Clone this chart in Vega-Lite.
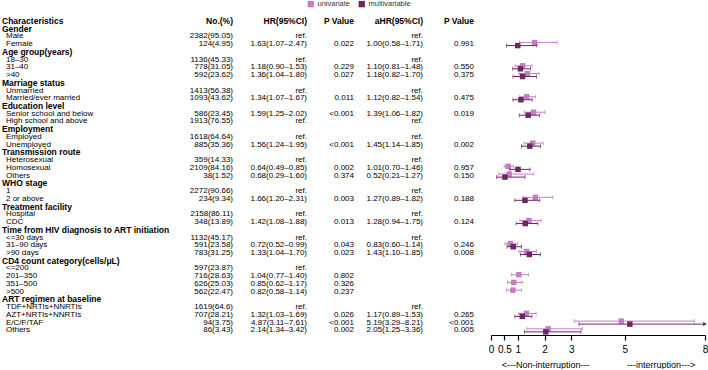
{
  "$schema": "https://vega.github.io/schema/vega-lite/v6.json",
  "padding": {"left": 0, "top": 0, "right": 0, "bottom": 0},
  "spacing": 0,
  "config": {"font": "Liberation Sans", "view": {"stroke": null}, "text": {"color": "#000"},
    "axisX": {"labelOverlap": false, "labelFlush": false, "labelBound": false, "grid": false, "domainColor": "#000", "domainWidth": 1.2, "tickColor": "#000", "tickWidth": 1.2, "tickSize": 5, "labelFontSize": 10, "labelColor": "#000", "labelPadding": 4, "titleFontSize": 9, "titleFontWeight": "normal", "titleColor": "#000", "titlePadding": 6}},
  "data": {"values": [
    {"i": 0, "kind": "header", "label": "Characteristics", "n": "No.(%)", "hr": "HR(95%CI)", "p": "P Value", "ahr": "aHR(95%CI)", "ap": "P Value"},
    {"i": 1, "kind": "group", "label": "Gender"},
    {"i": 2, "kind": "item", "label": "Male", "n": "2382(95.05)", "hr": "ref.", "ahr": "ref."},
    {"i": 3, "kind": "item", "label": "Female", "n": "124(4.95)", "hr": "1.63(1.07–2.47)", "p": "0.022", "ahr": "1.00(0.58–1.71)", "ap": "0.991", "he": 1.63, "hl": 1.07, "hh": 2.47, "ae": 1.00, "al": 0.58, "ah": 1.71},
    {"i": 4, "kind": "group", "label": "Age group(years)"},
    {"i": 5, "kind": "item", "label": "18–30", "n": "1136(45.33)", "hr": "ref.", "ahr": "ref."},
    {"i": 6, "kind": "item", "label": "31–40", "n": "778(31.05)", "hr": "1.18(0.90–1.53)", "p": "0.229", "ahr": "1.10(0.81–1.48)", "ap": "0.550", "he": 1.18, "hl": 0.90, "hh": 1.53, "ae": 1.10, "al": 0.81, "ah": 1.48},
    {"i": 7, "kind": "item", "label": ">40", "n": "592(23.62)", "hr": "1.36(1.04–1.80)", "p": "0.027", "ahr": "1.18(0.82–1.70)", "ap": "0.375", "he": 1.36, "hl": 1.04, "hh": 1.80, "ae": 1.18, "al": 0.82, "ah": 1.70},
    {"i": 8, "kind": "group", "label": "Marriage status"},
    {"i": 9, "kind": "item", "label": "Unmarried", "n": "1413(56.38)", "hr": "ref.", "ahr": "ref."},
    {"i": 10, "kind": "item", "label": "Married/ever married", "n": "1093(43.62)", "hr": "1.34(1.07–1.67)", "p": "0.011", "ahr": "1.12(0.82–1.54)", "ap": "0.475", "he": 1.34, "hl": 1.07, "hh": 1.67, "ae": 1.12, "al": 0.82, "ah": 1.54},
    {"i": 11, "kind": "group", "label": "Education level"},
    {"i": 12, "kind": "item", "label": "Senior school and below", "n": "586(23.45)", "hr": "1.59(1.25–2.02)", "p": "<0.001", "ahr": "1.39(1.06–1.82)", "ap": "0.019", "he": 1.59, "hl": 1.25, "hh": 2.02, "ae": 1.39, "al": 1.06, "ah": 1.82},
    {"i": 13, "kind": "item", "label": "High school and above", "n": "1913(76.55)", "hr": "ref.", "ahr": "ref."},
    {"i": 14, "kind": "group", "label": "Employment"},
    {"i": 15, "kind": "item", "label": "Employed", "n": "1618(64.64)", "hr": "ref.", "ahr": "ref."},
    {"i": 16, "kind": "item", "label": "Unemployed", "n": "885(35.36)", "hr": "1.56(1.24–1.95)", "p": "<0.001", "ahr": "1.45(1.14–1.85)", "ap": "0.002", "he": 1.56, "hl": 1.24, "hh": 1.95, "ae": 1.45, "al": 1.14, "ah": 1.85},
    {"i": 17, "kind": "group", "label": "Transmission route"},
    {"i": 18, "kind": "item", "label": "Heterosexual", "n": "359(14.33)", "hr": "ref.", "ahr": "ref."},
    {"i": 19, "kind": "item", "label": "Homosexual", "n": "2109(84.16)", "hr": "0.64(0.49–0.85)", "p": "0.002", "ahr": "1.01(0.70–1.46)", "ap": "0.957", "he": 0.64, "hl": 0.49, "hh": 0.85, "ae": 1.01, "al": 0.70, "ah": 1.46},
    {"i": 20, "kind": "item", "label": "Others", "n": "38(1.52)", "hr": "0.68(0.29–1.60)", "p": "0.374", "ahr": "0.52(0.21–1.27)", "ap": "0.150", "he": 0.68, "hl": 0.29, "hh": 1.60, "ae": 0.52, "al": 0.21, "ah": 1.27},
    {"i": 21, "kind": "group", "label": "WHO stage"},
    {"i": 22, "kind": "item", "label": "1", "n": "2272(90.66)", "hr": "ref.", "ahr": "ref."},
    {"i": 23, "kind": "item", "label": "2 or above", "n": "234(9.34)", "hr": "1.66(1.20–2.31)", "p": "0.003", "ahr": "1.27(0.89–1.82)", "ap": "0.188", "he": 1.66, "hl": 1.20, "hh": 2.31, "ae": 1.27, "al": 0.89, "ah": 1.82},
    {"i": 24, "kind": "group", "label": "Treatment facility"},
    {"i": 25, "kind": "item", "label": "Hospital", "n": "2158(86.11)", "hr": "ref.", "ahr": "ref."},
    {"i": 26, "kind": "item", "label": "CDC", "n": "348(13.89)", "hr": "1.42(1.08–1.88)", "p": "0.013", "ahr": "1.28(0.94–1.75)", "ap": "0.124", "he": 1.42, "hl": 1.08, "hh": 1.88, "ae": 1.28, "al": 0.94, "ah": 1.75},
    {"i": 27, "kind": "group", "label": "Time from HIV diagnosis to ART initiation"},
    {"i": 28, "kind": "item", "label": "<=30 days", "n": "1132(45.17)", "hr": "ref.", "ahr": "ref."},
    {"i": 29, "kind": "item", "label": "31–90 days", "n": "591(23.58)", "hr": "0.72(0.52–0.99)", "p": "0.043", "ahr": "0.83(0.60–1.14)", "ap": "0.246", "he": 0.72, "hl": 0.52, "hh": 0.99, "ae": 0.83, "al": 0.60, "ah": 1.14},
    {"i": 30, "kind": "item", "label": ">90 days", "n": "783(31.25)", "hr": "1.33(1.04–1.70)", "p": "0.023", "ahr": "1.43(1.10–1.85)", "ap": "0.008", "he": 1.33, "hl": 1.04, "hh": 1.70, "ae": 1.43, "al": 1.10, "ah": 1.85},
    {"i": 31, "kind": "group", "label": "CD4 count category(cells/μL)"},
    {"i": 32, "kind": "item", "label": "<=200", "n": "597(23.87)", "hr": "ref."},
    {"i": 33, "kind": "item", "label": "201–350", "n": "716(28.63)", "hr": "1.04(0.77–1.40)", "p": "0.802", "he": 1.04, "hl": 0.77, "hh": 1.40},
    {"i": 34, "kind": "item", "label": "351–500", "n": "626(25.03)", "hr": "0.85(0.62–1.17)", "p": "0.326", "he": 0.85, "hl": 0.62, "hh": 1.17},
    {"i": 35, "kind": "item", "label": ">500", "n": "562(22.47)", "hr": "0.82(0.58–1.14)", "p": "0.237", "he": 0.82, "hl": 0.58, "hh": 1.14},
    {"i": 36, "kind": "group", "label": "ART regimen at baseline"},
    {"i": 37, "kind": "item", "label": "TDF+NRTIs+NNRTIs", "n": "1619(64.6)", "hr": "ref.", "ahr": "ref."},
    {"i": 38, "kind": "item", "label": "AZT+NRTIs+NNRTIs", "n": "707(28.21)", "hr": "1.32(1.03–1.69)", "p": "0.026", "ahr": "1.17(0.89–1.53)", "ap": "0.265", "he": 1.32, "hl": 1.03, "hh": 1.69, "ae": 1.17, "al": 0.89, "ah": 1.53},
    {"i": 39, "kind": "item", "label": "E/C/F/TAF", "n": "94(3.75)", "hr": "4.87(3.11–7.61)", "p": "<0.001", "ahr": "5.19(3.29–8.21)", "ap": "<0.001", "he": 4.87, "hl": 3.11, "hh": 7.61, "ae": 5.19, "al": 3.29, "ah": 8.21},
    {"i": 40, "kind": "item", "label": "Others", "n": "86(3.43)", "hr": "2.14(1.34–3.42)", "p": "0.002", "ahr": "2.05(1.25–3.36)", "ap": "0.005", "he": 2.14, "hl": 1.34, "hh": 3.42, "ae": 2.05, "al": 1.25, "ah": 3.36}
  ]},
  "hconcat": [
    {
      "width": 234, "height": 318,
      "encoding": {"y": {"field": "i", "type": "quantitative", "scale": {"domain": [-0.5, 40.6], "reverse": true, "nice": false, "zero": false}, "axis": null}},
      "layer": [
        {"data": {"values": [{}]}, "mark": {"type": "rule", "color": "#000", "strokeWidth": 2}, "encoding": {"y": {"datum": -0.5}, "x": {"value": 0}, "x2": {"value": "width"}}},
        {"data": {"values": [{}]}, "mark": {"type": "rule", "color": "#000", "strokeWidth": 1}, "encoding": {"y": {"datum": 0.5}, "x": {"value": 0}, "x2": {"value": "width"}}},
        {"transform": [{"filter": "datum.kind != 'item'"}], "mark": {"type": "text", "align": "left", "baseline": "middle", "fontSize": 8.5, "fontWeight": "bold", "dx": 2}, "encoding": {"text": {"field": "label"}, "x": {"value": 0}}},
        {"transform": [{"filter": "datum.kind == 'item'"}], "mark": {"type": "text", "align": "left", "baseline": "middle", "fontSize": 8, "dx": 6}, "encoding": {"text": {"field": "label"}, "x": {"value": 0}}},
        {"transform": [{"filter": "datum.kind == 'header'"}], "mark": {"type": "text", "align": "right", "baseline": "middle", "fontSize": 8.5, "fontWeight": "bold", "dx": -1}, "encoding": {"text": {"field": "n"}, "x": {"value": "width"}}},
        {"transform": [{"filter": "datum.kind == 'item'"}], "mark": {"type": "text", "align": "right", "baseline": "middle", "fontSize": 8, "dx": -1}, "encoding": {"text": {"field": "n"}, "x": {"value": "width"}}}
      ]
    },
    {
      "width": 74, "height": 318,
      "encoding": {"y": {"field": "i", "type": "quantitative", "scale": {"domain": [-0.5, 40.6], "reverse": true, "nice": false, "zero": false}, "axis": null}},
      "layer": [
        {"data": {"values": [{}]}, "mark": {"type": "rule", "color": "#000", "strokeWidth": 2}, "encoding": {"y": {"datum": -0.5}, "x": {"value": 0}, "x2": {"value": "width"}}},
        {"data": {"values": [{}]}, "mark": {"type": "rule", "color": "#000", "strokeWidth": 1}, "encoding": {"y": {"datum": 0.5}, "x": {"value": 0}, "x2": {"value": "width"}}},
        {"transform": [{"filter": "datum.kind == 'header'"}], "mark": {"type": "text", "align": "right", "baseline": "middle", "fontSize": 8.5, "fontWeight": "bold", "dx": -1}, "encoding": {"text": {"field": "hr"}, "x": {"value": "width"}}},
        {"transform": [{"filter": "datum.kind == 'item' && isValid(datum.hr)"}], "mark": {"type": "text", "align": "right", "baseline": "middle", "fontSize": 8, "dx": -1}, "encoding": {"text": {"field": "hr"}, "x": {"value": "width"}}}
      ]
    },
    {
      "width": 47, "height": 318,
      "encoding": {"y": {"field": "i", "type": "quantitative", "scale": {"domain": [-0.5, 40.6], "reverse": true, "nice": false, "zero": false}, "axis": null}},
      "layer": [
        {"data": {"values": [{}]}, "mark": {"type": "rule", "color": "#000", "strokeWidth": 2}, "encoding": {"y": {"datum": -0.5}, "x": {"value": 0}, "x2": {"value": "width"}}},
        {"data": {"values": [{}]}, "mark": {"type": "rule", "color": "#000", "strokeWidth": 1}, "encoding": {"y": {"datum": 0.5}, "x": {"value": 0}, "x2": {"value": "width"}}},
        {"transform": [{"filter": "datum.kind == 'header'"}], "mark": {"type": "text", "align": "right", "baseline": "middle", "fontSize": 8.5, "fontWeight": "bold", "dx": -1}, "encoding": {"text": {"field": "p"}, "x": {"value": "width"}}},
        {"transform": [{"filter": "datum.kind == 'item' && isValid(datum.p)"}], "mark": {"type": "text", "align": "right", "baseline": "middle", "fontSize": 8, "dx": -1}, "encoding": {"text": {"field": "p"}, "x": {"value": "width"}}}
      ]
    },
    {
      "width": 70, "height": 318,
      "encoding": {"y": {"field": "i", "type": "quantitative", "scale": {"domain": [-0.5, 40.6], "reverse": true, "nice": false, "zero": false}, "axis": null}},
      "layer": [
        {"data": {"values": [{}]}, "mark": {"type": "rule", "color": "#000", "strokeWidth": 2}, "encoding": {"y": {"datum": -0.5}, "x": {"value": 0}, "x2": {"value": "width"}}},
        {"data": {"values": [{}]}, "mark": {"type": "rule", "color": "#000", "strokeWidth": 1}, "encoding": {"y": {"datum": 0.5}, "x": {"value": 0}, "x2": {"value": "width"}}},
        {"transform": [{"filter": "datum.kind == 'header'"}], "mark": {"type": "text", "align": "right", "baseline": "middle", "fontSize": 8.5, "fontWeight": "bold", "dx": -2}, "encoding": {"text": {"field": "ahr"}, "x": {"value": "width"}}},
        {"transform": [{"filter": "datum.kind == 'item' && isValid(datum.ahr)"}], "mark": {"type": "text", "align": "right", "baseline": "middle", "fontSize": 8, "dx": -2}, "encoding": {"text": {"field": "ahr"}, "x": {"value": "width"}}}
      ]
    },
    {
      "width": 63, "height": 318,
      "encoding": {"y": {"field": "i", "type": "quantitative", "scale": {"domain": [-0.5, 40.6], "reverse": true, "nice": false, "zero": false}, "axis": null}},
      "layer": [
        {"data": {"values": [{}]}, "mark": {"type": "rule", "color": "#000", "strokeWidth": 2}, "encoding": {"y": {"datum": -0.5}, "x": {"value": 0}, "x2": {"value": "width"}}},
        {"data": {"values": [{}]}, "mark": {"type": "rule", "color": "#000", "strokeWidth": 1}, "encoding": {"y": {"datum": 0.5}, "x": {"value": 0}, "x2": {"value": "width"}}},
        {"transform": [{"filter": "datum.kind == 'header'"}], "mark": {"type": "text", "align": "right", "baseline": "middle", "fontSize": 8.5, "fontWeight": "bold", "dx": -14}, "encoding": {"text": {"field": "ap"}, "x": {"value": "width"}}},
        {"transform": [{"filter": "datum.kind == 'item' && isValid(datum.ap)"}], "mark": {"type": "text", "align": "right", "baseline": "middle", "fontSize": 8, "dx": -14}, "encoding": {"text": {"field": "ap"}, "x": {"value": "width"}}}
      ]
    },
    {
      "width": 214, "height": 318,
      "encoding": {"y": {"field": "i", "type": "quantitative", "scale": {"domain": [-0.5, 40.6], "reverse": true, "nice": false, "zero": false}, "axis": null}},
      "layer": [
        {"data": {"values": [{}]}, "mark": {"type": "rule", "color": "#000", "strokeWidth": 2}, "encoding": {"y": {"datum": -0.5}, "x": {"value": 0}, "x2": {"value": "width"}}},
        {"data": {"values": [{}]}, "mark": {"type": "rule", "color": "#000", "strokeWidth": 1}, "encoding": {"y": {"datum": 0.5}, "x": {"value": 0}, "x2": {"value": "width"}}},
        {"transform": [{"filter": "isValid(datum.hl)"}], "mark": {"type": "rule", "color": "#C77CC6", "strokeWidth": 1, "yOffset": -1.5},
         "encoding": {
           "x": {"field": "hl", "type": "quantitative", "scale": {"domain": [0, 8], "nice": false, "zero": false},
             "axis": {"values": [0, 0.5, 1, 2, 3, 5, 8], "format": "~g", "labelOverlap": false, "title": "<---Non-interruption---\u00a0\u00a0\u00a0\u00a0\u00a0\u00a0\u00a0\u00a0\u00a0\u00a0\u00a0\u00a0\u00a0\u00a0\u00a0---interruption--->"}},
           "x2": {"field": "hh"}}},
        {"data": {"values": [{}]}, "mark": {"type": "rule", "color": "#A0A0A0", "strokeWidth": 1.5}, "encoding": {"x": {"datum": 1, "axis": {"values": [0, 0.5, 1, 2, 3, 5, 8], "format": "~g", "labelOverlap": false}}, "y": {"datum": 0.5}, "y2": {"datum": 40.6}}},
        {"transform": [{"filter": "isValid(datum.hl)"}], "mark": {"type": "tick", "orient": "vertical", "color": "#C77CC6", "size": 4, "thickness": 1, "yOffset": -1.5}, "encoding": {"x": {"field": "hl", "type": "quantitative", "axis": {"values": [0, 0.5, 1, 2, 3, 5, 8], "format": "~g", "labelOverlap": false}}}},
        {"transform": [{"filter": "isValid(datum.hh)"}], "mark": {"type": "tick", "orient": "vertical", "color": "#C77CC6", "size": 4, "thickness": 1, "yOffset": -1.5}, "encoding": {"x": {"field": "hh", "type": "quantitative", "axis": {"values": [0, 0.5, 1, 2, 3, 5, 8], "format": "~g", "labelOverlap": false}}}},
        {"transform": [{"filter": "isValid(datum.he)"}], "mark": {"type": "point", "shape": "square", "filled": true, "opacity": 1, "size": 30, "yOffset": -1.5},
         "encoding": {"x": {"field": "he", "type": "quantitative", "axis": {"values": [0, 0.5, 1, 2, 3, 5, 8], "format": "~g", "labelOverlap": false}},
           "color": {"datum": "univariate", "type": "nominal", "scale": {"domain": ["univariate", "multivariable"], "range": ["#C77CC6", "#6B2760"]},
             "legend": {"title": null, "orient": "none", "legendX": 307, "legendY": -17, "direction": "horizontal", "symbolType": "square", "symbolSize": 40, "symbolStrokeWidth": 0, "labelFontSize": 7.5, "labelColor": "#333", "labelOffset": 3, "columnPadding": 7}}}},
        {"transform": [{"filter": "isValid(datum.al)"}], "mark": {"type": "rule", "color": "#6B2760", "strokeWidth": 1, "yOffset": 1.5, "clip": true}, "encoding": {"x": {"field": "al", "type": "quantitative", "axis": {"values": [0, 0.5, 1, 2, 3, 5, 8], "format": "~g", "labelOverlap": false}}, "x2": {"field": "ah"}}},
        {"transform": [{"filter": "isValid(datum.al)"}], "mark": {"type": "tick", "orient": "vertical", "color": "#6B2760", "size": 4, "thickness": 1, "yOffset": 1.5}, "encoding": {"x": {"field": "al", "type": "quantitative", "axis": {"values": [0, 0.5, 1, 2, 3, 5, 8], "format": "~g", "labelOverlap": false}}}},
        {"transform": [{"filter": "isValid(datum.ah) && datum.ah <= 8"}], "mark": {"type": "tick", "orient": "vertical", "color": "#6B2760", "size": 4, "thickness": 1, "yOffset": 1.5}, "encoding": {"x": {"field": "ah", "type": "quantitative", "axis": {"values": [0, 0.5, 1, 2, 3, 5, 8], "format": "~g", "labelOverlap": false}}}},
        {"transform": [{"filter": "isValid(datum.ah) && datum.ah > 8"}], "mark": {"type": "point", "shape": "triangle-right", "filled": true, "opacity": 1, "color": "#6B2760", "size": 18, "yOffset": 1.5}, "encoding": {"x": {"datum": 8, "axis": {"values": [0, 0.5, 1, 2, 3, 5, 8], "format": "~g", "labelOverlap": false}}}},
        {"transform": [{"filter": "isValid(datum.ae)"}], "mark": {"type": "point", "shape": "square", "filled": true, "opacity": 1, "size": 30, "yOffset": 1.5},
         "encoding": {"x": {"field": "ae", "type": "quantitative", "axis": {"values": [0, 0.5, 1, 2, 3, 5, 8], "format": "~g", "labelOverlap": false}}, "color": {"datum": "multivariable", "type": "nominal"}}}
      ]
    }
  ]
}
